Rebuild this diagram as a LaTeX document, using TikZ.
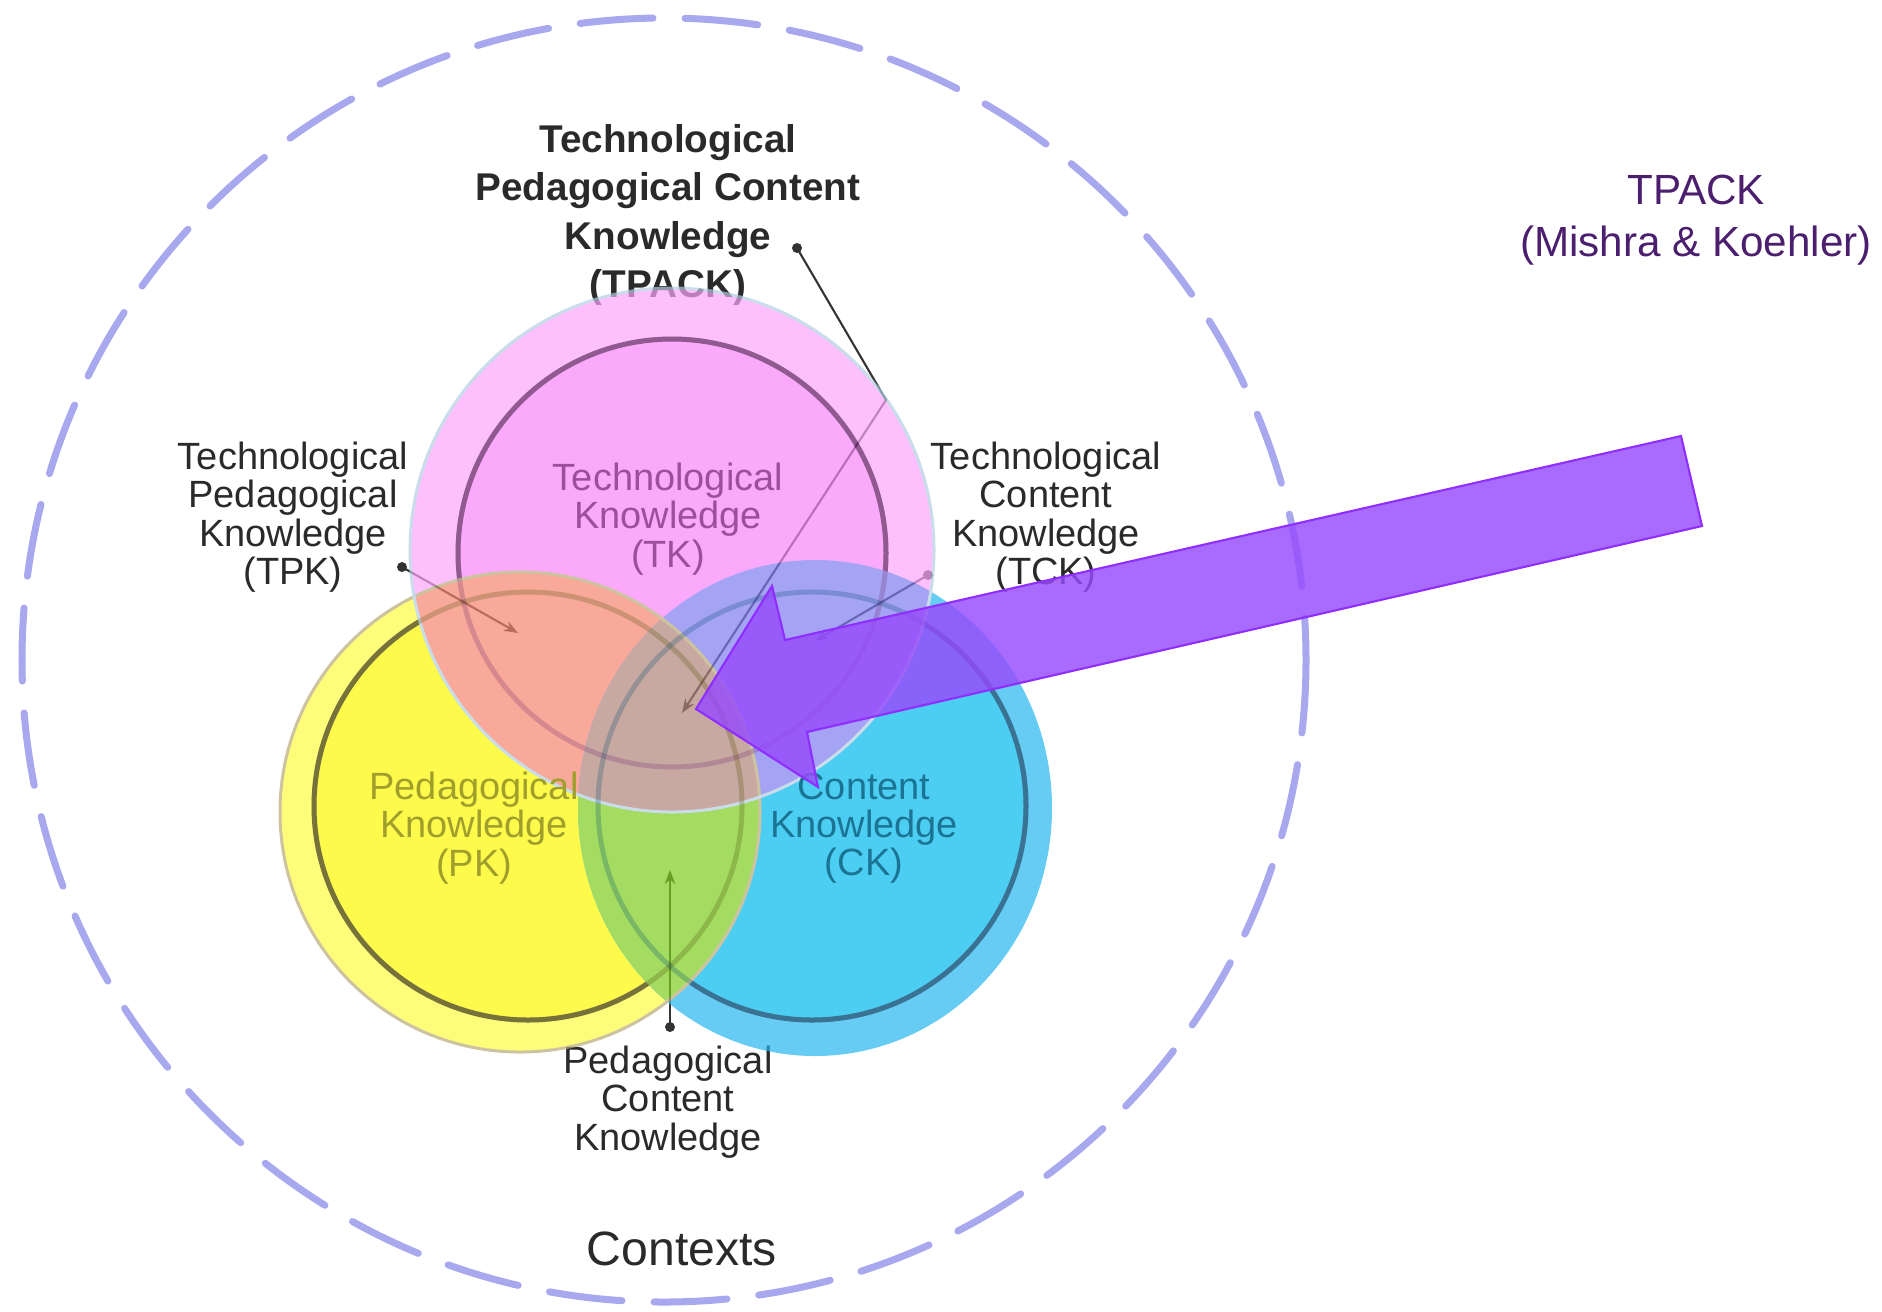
\documentclass[tikz,border=0pt]{standalone}
\usepackage{fontspec}
\setmainfont{Liberation Sans}
\usetikzlibrary{arrows.meta}

\definecolor{ctxblue}{HTML}{A8A8EE}
\definecolor{labelgray}{HTML}{2A2A2A}
\definecolor{wiregray}{HTML}{333333}
\definecolor{tpurple}{HTML}{4B1E6E}
% disc colours (they are seen through a 0.7 group)
\definecolor{trim}{HTML}{FCA5FC}
\definecolor{tcore}{HTML}{F986F9}
\definecolor{prim}{HTML}{FEFC41}
\definecolor{pcore}{HTML}{FCF800}
\definecolor{crim}{HTML}{27B6EF}
\definecolor{ccore}{HTML}{00B9EE}
\definecolor{tpmix}{HTML}{F5846F}
\definecolor{tcmix}{HTML}{7E7CEF}
\definecolor{pcmix}{HTML}{7DCD1F}
\definecolor{allmix}{HTML}{B08479}
\definecolor{tedge}{HTML}{B0CDE1}
\definecolor{pedge}{HTML}{B8A977}
\definecolor{tkring}{HTML}{702A70}
\definecolor{pkring}{HTML}{504A00}
\definecolor{ckring}{HTML}{004A72}
\definecolor{tktext}{HTML}{9C509C}
\definecolor{pktext}{HTML}{A19F2C}
\definecolor{cktext}{HTML}{1C7494}
\definecolor{arrowfill}{HTML}{964BFC}
\definecolor{arrowedge}{HTML}{8F2EFF}

\tikzset{
  lbl/.style={align=center, text=labelgray, inner sep=0pt, font=\fontsize{10.8}{10.9}\selectfont},
  titlelbl/.style={lbl, font=\bfseries\fontsize{11}{13.7}\selectfont},
  innerlbl/.style={align=center, inner sep=0pt, font=\fontsize{10.8}{10.9}\selectfont},
  ctxlbl/.style={lbl, font=\fontsize{13.7}{14}\selectfont},
  srclbl/.style={align=center, text=tpurple, inner sep=0pt, font=\fontsize{12}{14.7}\selectfont},
  dot/.style={circle, fill=wiregray, inner sep=0pt, minimum size=0.1cm},
  pointer/.style={draw=wiregray, line width=0.6pt, -{Stealth[length=4pt,width=3pt]}},
  contexts/.style={draw=ctxblue, line width=0.07cm, line cap=round, dash pattern=on 0.73cm off 0.32cm},
  ring/.style={line width=0.05cm},
  faintring/.style={line width=0.05cm, draw opacity=0.25},
  bigarrow/.style={fill=arrowfill, fill opacity=0.82, draw=arrowedge, line width=0.6pt, line join=miter}
}

\begin{document}
\begin{tikzpicture}[x=0.01cm, y=-0.01cm]
  \useasboundingbox (0,0) rectangle (1882,1311);

  %%%%% CONTEXTS %%%%%
  \draw[contexts] (664,660) circle (642);
  \node[ctxlbl] (contexts) at (682,1249) {Contexts};

  %%%%% OUTER LABELS %%%%%
  \node[titlelbl] (tpack) at (668,215) {Technological\\Pedagogical Content\\Knowledge\\(TPACK)};
  \node[lbl] (tpk) at (293,517) {Technological\\Pedagogical\\Knowledge\\(TPK)};
  \node[lbl] (tck) at (1046,517) {Technological\\Content\\Knowledge\\(TCK)};
  \node[lbl] (pck) at (668,1102) {Pedagogical\\Content\\Knowledge};
  \node[srclbl] (source) at (1696,220) {TPACK\\(Mishra \& Koehler)};

  %%%%% POINTERS %%%%%
  \node[dot] (tpackdot) at (797,248) {};
  \coordinate (tpackbend) at (886,400);
  \coordinate (tpacktip) at (682,713);
  \draw[pointer] (tpackdot.center) -- (tpackbend) -- (tpacktip);

  \node[dot] (tpkdot) at (402,567) {};
  \coordinate (tpktip) at (518,633);
  \draw[pointer] (tpkdot.center) -- (tpktip);

  \node[dot] (tckdot) at (928,575) {};
  \coordinate (tcktip) at (815,641);
  \draw[pointer] (tckdot.center) -- (tcktip);

  \node[dot] (pckdot) at (670,1027) {};
  \coordinate (pcktip) at (670,870);
  \draw[pointer] (pckdot.center) -- (pcktip);

  %%%%% THE THREE DISCS %%%%%
  \begin{scope}[transparency group, opacity=0.7]
    \fill[prim] (520,812) circle (240);
    \fill[pcore] (528,806) circle (214);
    \draw[ring, pkring] (528,806) circle (214);
    \fill[crim] (815,808) ellipse [x radius=237, y radius=248];
    \fill[ccore] (812,806) circle (214);
    \draw[ring, ckring] (812,806) circle (214);
    \fill[trim] (672,550) circle (262);
    \fill[tcore] (672,553) circle (214);
    \draw[ring, tkring] (672,553) circle (214);

    % overlaps
    \begin{scope}
      \clip (520,812) circle (240);
      \fill[pcmix] (815,808) ellipse [x radius=237, y radius=248];
    \end{scope}
    \begin{scope}
      \clip (672,550) circle (262);
      \fill[tpmix] (520,812) circle (240);
      \fill[tcmix] (815,808) ellipse [x radius=237, y radius=248];
      \clip (520,812) circle (240);
      \fill[allmix] (815,808) ellipse [x radius=237, y radius=248];
    \end{scope}

    \draw[pedge, line width=0.03cm] (520,812) circle (240);
    \draw[tedge, line width=0.03cm] (672,550) circle (262);
  \end{scope}

  % rings seen through the overlaps
  \draw[faintring, tkring] (672,553) circle (214);
  \draw[faintring, pkring] (528,806) circle (214);
  \draw[faintring, ckring] (812,806) circle (214);

  %%%%% INNER LABELS %%%%%
  \node[innerlbl, text=tktext] (tk) at (668,519) {Technological\\Knowledge\\(TK)};
  \node[innerlbl, text=pktext] (pk) at (474,828) {Pedagogical\\Knowledge\\(PK)};
  \node[innerlbl, text=cktext] (ck) at (864,828) {Content\\Knowledge\\(CK)};

  %%%%% BLOCK ARROW %%%%%
  \draw[bigarrow] (1681,436) -- (785,640) -- (772,586) -- (696,709) -- (818,787) -- (807,732) -- (1702,526) -- cycle;
\end{tikzpicture}
\end{document}
